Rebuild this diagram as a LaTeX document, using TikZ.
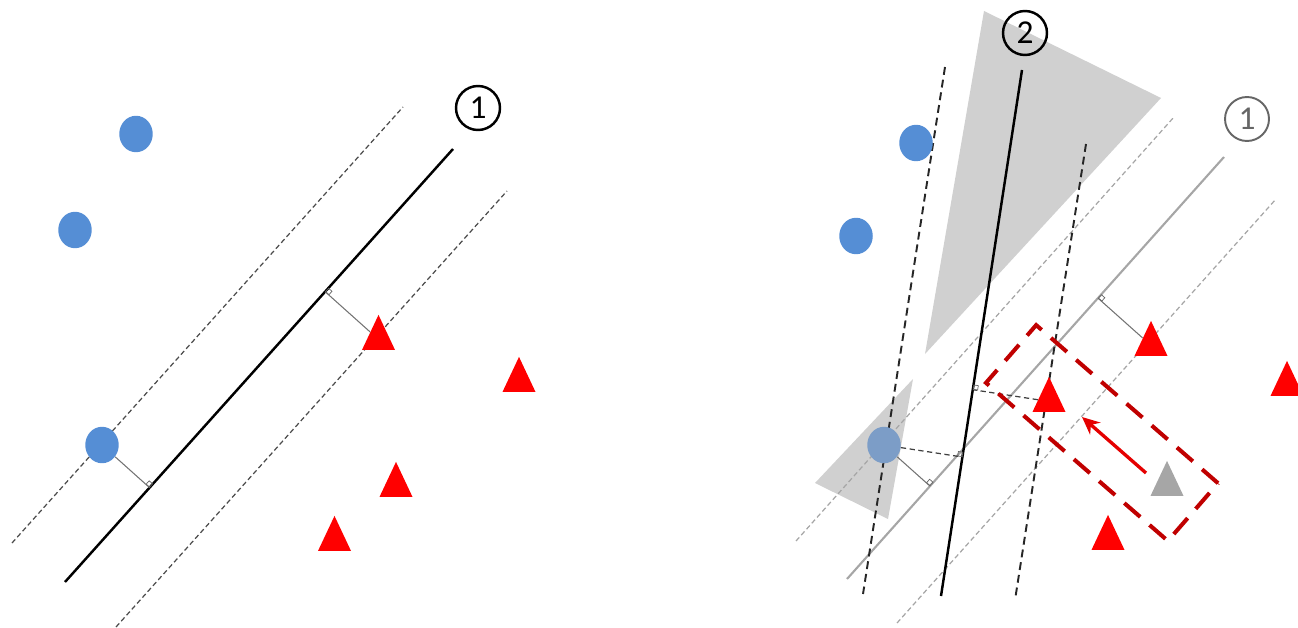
\documentclass[tikz,border=0pt]{standalone}
\usepackage{fontspec}
\setsansfont{Carlito}
\usepackage{tikz}
\usetikzlibrary{arrows.meta,calc,shapes.geometric}
\definecolor{dotblue}{RGB}{85,142,213}
\definecolor{dotmuted}{RGB}{124,157,199}
\definecolor{boxred}{RGB}{192,0,0}
\definecolor{conegray}{RGB}{208,208,208}

\begin{document}
\begin{tikzpicture}[x = 0.02cm, y = -0.02cm,
            dot/.style = {ellipse, fill = dotblue, inner sep = 0pt, minimum width = 0.67cm, minimum height = 0.73cm},
            tri/.style = {isosceles triangle, isosceles triangle stretches, shape border rotate = 90, fill = red, inner sep = 0pt, minimum width = 0.66cm, minimum height = 0.7cm, anchor = apex},
            number/.style = {circle, draw, line width = 1.4pt, minimum size = 0.88cm, inner sep = 0pt, font = \sffamily\fontsize{19}{19}\selectfont},
            boundary/.style = {line width = 1.4pt},
            margin-line/.style = {line width = 0.7pt, black!70, dash pattern = on 2.8pt off 1.7pt},
            margin-dark/.style = {line width = 1.1pt, black!85, dash pattern = on 4.5pt off 2.8pt},
            margin-light/.style = {line width = 0.7pt, black!35, dash pattern = on 2.8pt off 1.7pt},
            perp/.style = {line width = 0.6pt, black!55},
            perp-dark/.style = {line width = 0.7pt, black!75, densely dashed},
            corner/.style = {draw, line width = 0.4pt, black!60, minimum size = 0.09cm, inner sep = 0pt}]
            \useasboundingbox (0,0) rectangle (1298,628);

            % left panel: boundary 1 with its margin
            \draw [margin-line](12,543) coordinate (left-upper-start) -- (403,107) coordinate (left-upper-end);
            \draw [margin-line](116,627) coordinate (left-lower-start) -- (507,191) coordinate (left-lower-end);
            \draw [boundary](65,582) coordinate (left-line-start) -- (453,149) coordinate (left-line-end);
            \node [number] (left-label) at (478,108) {1};
            \node [dot] (left-dot-1) at (136,134) {};
            \node [dot] (left-dot-2) at (75,230) {};
            \node [dot] (left-dot-3) at (102,445) {};
            \node [tri] (left-tri-1) at (378.5,314) {};
            \node [tri] (left-tri-2) at (519,356) {};
            \node [tri] (left-tri-3) at (396,461) {};
            \node [tri] (left-tri-4) at (334.5,515) {};
            \coordinate (left-foot-1) at ($(left-line-start)!(left-dot-3)!(left-line-end)$);
            \coordinate (left-foot-2) at ($(left-line-start)!(left-tri-1)!(left-line-end)$);
            \draw [perp] (left-dot-3) -- (left-foot-1);
            \draw [perp] (left-tri-1) -- (left-foot-2);
            \node [corner, rotate = 48, anchor = south west] (left-mark-1) at (left-foot-1) {};
            \node [corner, rotate = 48, anchor = north west] (left-mark-2) at (left-foot-2) {};

            % right panel: shaded cones behind everything
            \fill [conegray] (984,11) coordinate (cone-top) -- (1161,98) coordinate (cone-right) -- (925,354) coordinate (cone-tip) -- cycle;
            \fill [conegray] (913,379) coordinate (wedge-top) -- (815,483) coordinate (wedge-left) -- (888,519) coordinate (wedge-tip) -- cycle;

            % right panel: old boundary 1
            \draw [margin-light](796,541) coordinate (old-upper-start) -- (1174,117) coordinate (old-upper-end);
            \draw [margin-light](897,623) coordinate (old-lower-start) -- (1276,199) coordinate (old-lower-end);
            \draw [boundary, black!35, line width = 1.2pt](847,579) coordinate (old-line-start) -- (1224,157) coordinate (old-line-end);
            \node [number, draw = black!60, text = black!60, line width = 1.1pt] (old-label) at (1247,119) {1};

            % right panel: new boundary 2
            \draw [margin-dark](945,67) coordinate (new-left-start) -- (863,594) coordinate (new-left-end);
            \draw [margin-dark](1086,144) coordinate (new-right-start) -- (1015,600) coordinate (new-right-end);
            \draw [boundary](1022,70) coordinate (new-line-start) -- (941,596) coordinate (new-line-end);
            \node [number] (new-label) at (1025,33) {2};

            \node [dot] (right-dot-1) at (916,143) {};
            \node [dot] (right-dot-2) at (856,236) {};
            \node [dot, fill = dotmuted] (right-dot-3) at (884,445) {};
            \node [tri] (right-tri-1) at (1151,320) {};
            \node [tri] (right-tri-2) at (1049,376) {};
            \node [tri] (right-tri-3) at (1287,360) {};
            \node [tri] (right-tri-4) at (1108,514) {};
            \node [tri, fill = black!35] (old-tri) at (1167,460) {};

            \coordinate (old-foot-1) at ($(old-line-start)!(right-dot-3)!(old-line-end)$);
            \coordinate (old-foot-2) at ($(old-line-start)!(right-tri-1)!(old-line-end)$);
            \coordinate (new-foot-1) at ($(new-line-start)!(right-dot-3)!(new-line-end)$);
            \coordinate (new-foot-2) at ($(new-line-start)!(right-tri-2)!(new-line-end)$);
            \draw [perp] (right-dot-3) -- (old-foot-1);
            \draw [perp] (right-tri-1) -- (old-foot-2);
            \draw [perp-dark] (right-dot-3) -- (new-foot-1);
            \draw [perp-dark] (right-tri-2) -- (new-foot-2);
            \node [corner, rotate = 48, anchor = south west] (old-mark-1) at (old-foot-1) {};
            \node [corner, rotate = 48, anchor = north west] (old-mark-2) at (old-foot-2) {};
            \node [corner, rotate = 81, anchor = south west] (new-mark-1) at (new-foot-1) {};
            \node [corner, rotate = 81, anchor = north west] (new-mark-2) at (new-foot-2) {};

            % the moved point and its box
            \node [draw = boxred, line width = 2.3pt, dash pattern = on 12pt off 7pt, rotate = -41, minimum width = 4.82cm, minimum height = 1.53cm, inner sep = 0pt] (moved-box) at (1102,433) {};
            \draw [arrows = {-Stealth[length = 10pt, width = 9pt]}, line width = 1.9pt, red!90!black] (1146,473) coordinate (move-start) -- (1082,417) coordinate (move-end);
\end{tikzpicture}
\end{document}
